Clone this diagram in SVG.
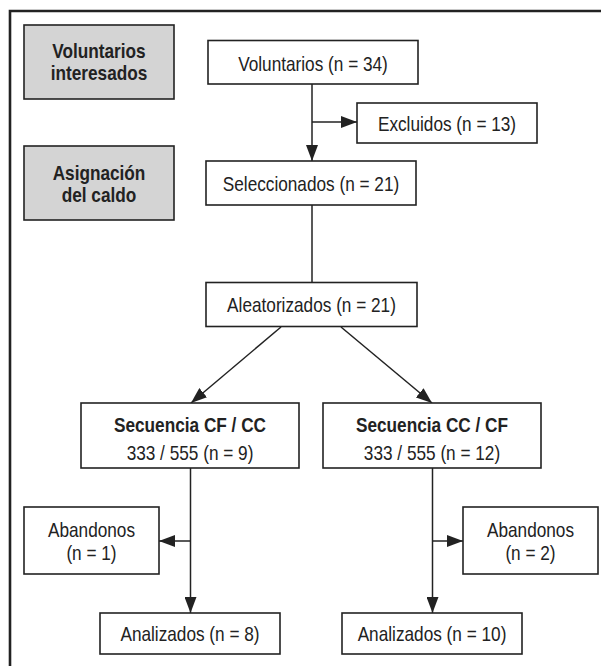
<svg xmlns="http://www.w3.org/2000/svg" width="601" height="666" viewBox="0 0 601 666">
<style>
.box{fill:#fff;stroke:#222;stroke-width:1.6}
.gbox{fill:#d4d4d4;stroke:#222;stroke-width:1.6}
text{font-family:"Liberation Sans",Arial,sans-serif;font-size:21px;fill:#222;text-anchor:middle}
.b{font-weight:bold}
.c{fill:none;stroke:#222;stroke-width:1.5}
</style>
<defs>
<marker id="ah" markerUnits="userSpaceOnUse" markerWidth="17" markerHeight="12" refX="16" refY="6" orient="auto">
<path d="M0,0 L16,6 L0,12 z" fill="#222"/>
</marker>
</defs>
<rect width="601" height="666" fill="#fff"/>
<path d="M10,667 V11 H603" fill="none" stroke="#222" stroke-width="2.6"/>
<g id="connectors">
<line class="c" x1="312" y1="84" x2="312" y2="161" marker-end="url(#ah)"/>
<line class="c" x1="312" y1="122" x2="357" y2="122" marker-end="url(#ah)"/>
<line class="c" x1="312" y1="205" x2="312" y2="282"/>
<line class="c" x1="281" y1="327" x2="191" y2="403" marker-end="url(#ah)"/>
<line class="c" x1="341" y1="327" x2="432" y2="403" marker-end="url(#ah)"/>
<line class="c" x1="190.5" y1="468" x2="190.5" y2="613" marker-end="url(#ah)"/>
<line class="c" x1="190.5" y1="541" x2="159" y2="541" marker-end="url(#ah)"/>
<line class="c" x1="432.5" y1="468" x2="432.5" y2="613" marker-end="url(#ah)"/>
<line class="c" x1="432.5" y1="541" x2="463" y2="541" marker-end="url(#ah)"/>
</g>
<g id="lbl-voluntarios-interesados">
<rect class="gbox" x="24" y="25" width="150" height="74"/>
<text class="b" transform="matrix(0.82,0,0,1,99,58)">Voluntarios</text>
<text class="b" transform="matrix(0.82,0,0,1,99,79.5)">interesados</text>
</g>
<g id="lbl-asignacion">
<rect class="gbox" x="24" y="146" width="150" height="74"/>
<text class="b" transform="matrix(0.82,0,0,1,99,180)">Asignación</text>
<text class="b" transform="matrix(0.82,0,0,1,99,202)">del caldo</text>
</g>
<g id="voluntarios">
<rect class="box" x="208" y="40.5" width="210" height="43.5"/>
<text transform="matrix(0.82,0,0,1,313,71)">Voluntarios (n = 34)</text>
</g>
<g id="excluidos">
<rect class="box" x="357" y="103" width="180" height="40"/>
<text transform="matrix(0.82,0,0,1,447,131)">Excluidos (n = 13)</text>
</g>
<g id="seleccionados">
<rect class="box" x="206" y="161" width="210" height="44"/>
<text transform="matrix(0.82,0,0,1,311,191)">Seleccionados (n = 21)</text>
</g>
<g id="aleatorizados">
<rect class="box" x="206" y="282.5" width="211" height="44"/>
<text transform="matrix(0.82,0,0,1,311.5,312)">Aleatorizados (n = 21)</text>
</g>
<g id="secuencia-cf-cc">
<rect class="box" x="81" y="403" width="218" height="65"/>
<text class="b" transform="matrix(0.82,0,0,1,190,432)">Secuencia CF / CC</text>
<text transform="matrix(0.82,0,0,1,190,460)">333 / 555 (n = 9)</text>
</g>
<g id="secuencia-cc-cf">
<rect class="box" x="323" y="403" width="218" height="65"/>
<text class="b" transform="matrix(0.82,0,0,1,432,432)">Secuencia CC / CF</text>
<text transform="matrix(0.82,0,0,1,432,460)">333 / 555 (n = 12)</text>
</g>
<g id="abandonos-1">
<rect class="box" x="24" y="507" width="135" height="67"/>
<text transform="matrix(0.82,0,0,1,91.5,537)">Abandonos</text>
<text transform="matrix(0.82,0,0,1,91.5,560)">(n = 1)</text>
</g>
<g id="abandonos-2">
<rect class="box" x="463" y="507" width="135" height="67"/>
<text transform="matrix(0.82,0,0,1,530.5,537)">Abandonos</text>
<text transform="matrix(0.82,0,0,1,530.5,560)">(n = 2)</text>
</g>
<g id="analizados-8">
<rect class="box" x="100" y="613" width="180" height="41"/>
<text transform="matrix(0.82,0,0,1,190,641)">Analizados (n = 8)</text>
</g>
<g id="analizados-10">
<rect class="box" x="342" y="613" width="180" height="41"/>
<text transform="matrix(0.82,0,0,1,432,641)">Analizados (n = 10)</text>
</g>
</svg>
